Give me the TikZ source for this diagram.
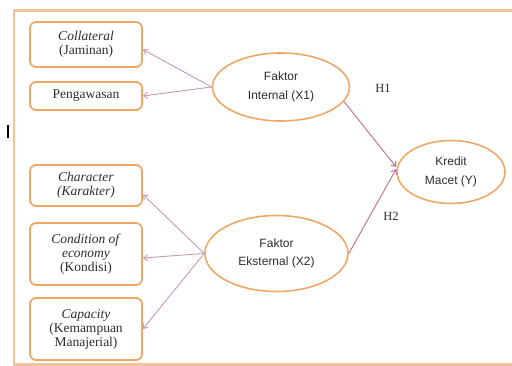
\documentclass[tikz,border=0pt]{standalone}
\usepackage{fontspec}
\setmainfont{Liberation Serif}
\newfontfamily\sansf{Liberation Sans}
\usetikzlibrary{shapes.geometric,arrows.meta}
\definecolor{boxor}{HTML}{EDA868}
\definecolor{frameor}{HTML}{F3C49A}
\definecolor{mauve}{HTML}{C39AB8}
\definecolor{redline}{HTML}{C06A88}
\definecolor{txt}{HTML}{2E2E2E}
\tikzset{
  varbox/.style={draw=boxor, line width=1.8pt, rounded corners=6pt, minimum width=112pt,
    align=center, inner sep=1pt, text=txt, font=\fontsize{13.5}{14}\selectfont},
  latent/.style={draw=boxor, line width=1.6pt, ellipse, align=center, inner sep=0pt, text=txt,
    font=\sansf\fontsize{12}{18.5}\selectfont},
  ind/.style={draw=mauve, line width=0.9pt, -{Straight Barb[length=4pt,width=6pt]}},
  hyp/.style={draw=redline, line width=0.9pt, -{Straight Barb[length=4pt,width=6pt]}},
  hlab/.style={text=txt, font=\fontsize{12.5}{14}\selectfont, inner sep=0pt}
}
\begin{document}
\begin{tikzpicture}[x=1pt,y=-1pt]
\useasboundingbox (0,0) rectangle (512,366);
\fill[white] (0,0) rectangle (512,366);
% frame
\draw[frameor, line width=2.4pt] (512,10.5) -- (14,10.5) -- (14,364.5) -- (512,364.5);
\draw[black, line width=2pt] (7.5,125) -- (7.5,138);
% indicator boxes
\node[varbox, minimum height=45pt] (coll) at (86,44.5) {\textit{Collateral}\\(Jaminan)};
\node[varbox, minimum height=28pt] (peng) at (86,96) {Pengawasan};
\node[varbox, minimum height=41pt] (char) at (86,185.5) {\textit{Character}\\\textit{(Karakter)}};
\node[varbox, minimum height=62pt] (cond) at (86,254) {\textit{Condition of}\\\textit{economy}\\(Kondisi)};
\node[varbox, minimum height=62pt] (cap) at (86,329) {\textit{Capacity}\\(Kemampuan\\Manajerial)};
% latent ellipses
\node[latent, minimum width=137pt, minimum height=68pt] (int) at (281,87) {Faktor\\Internal (X1)};
\node[latent, minimum width=143pt, minimum height=76pt] (eks) at (276.5,253.5) {Faktor\\Eksternal (X2)};
\node[latent, minimum width=108pt, minimum height=63pt] (kr) at (451,172) {Kredit\\Macet (Y)};
% connectors
\draw[ind] (int.west) -- ([yshift=-5pt]coll.east);
\draw[ind] (int.west) -- (peng.east);
\draw[ind] (eks.west) -- ([yshift=-9pt]char.east);
\draw[ind] (eks.west) -- ([yshift=-4pt]cond.east);
\draw[ind] (eks.west) -- (cap.east);
\draw[hyp] (int.-13) -- ([yshift=5pt]kr.west);
\draw[hyp] (eks.east) -- ([yshift=3pt]kr.west);
% labels
\node[hlab] (h1) at (383,88) {H1};
\node[hlab] (h2) at (391,216) {H2};
\end{tikzpicture}
\end{document}
